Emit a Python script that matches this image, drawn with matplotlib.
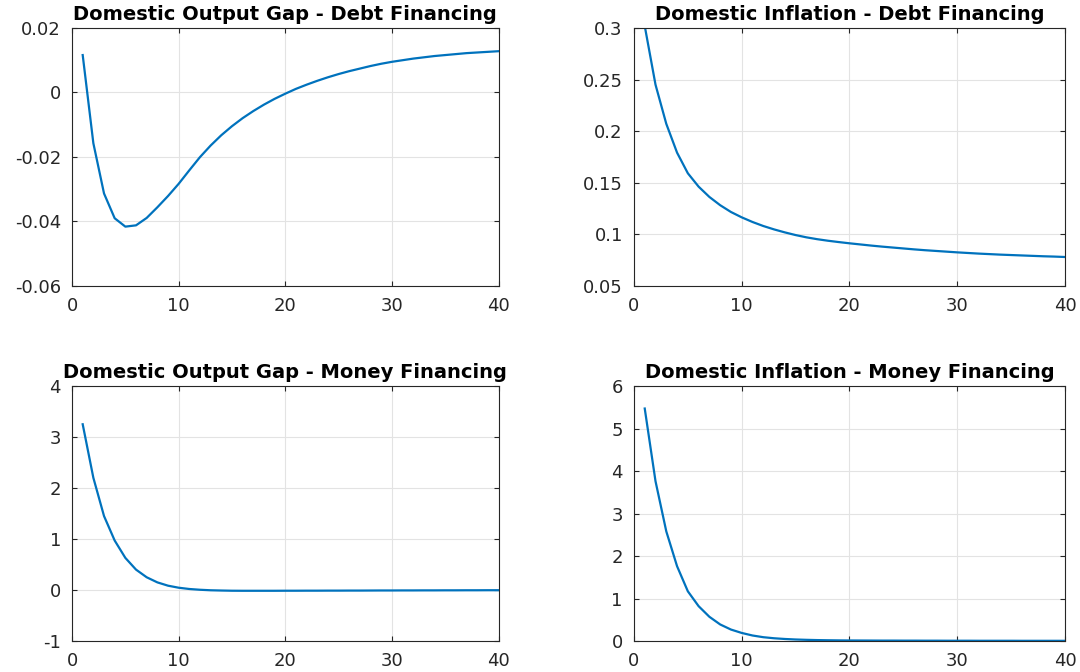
import matplotlib
matplotlib.use("Agg")
import matplotlib.pyplot as plt

plt.rcParams['font.family'] = ['DejaVu Sans']

periods = list(range(1, 41))

output_gap_debt = [0.0116, -0.0158, -0.0314, -0.0391, -0.0417, -0.0413, -0.0390, -0.0357, -0.0322, -0.0284,
                   -0.0242, -0.0201, -0.0165, -0.0133, -0.0105, -0.0080, -0.0058, -0.0038, -0.0020, -0.0004,
                   0.0011, 0.0024, 0.0036, 0.0047, 0.0057, 0.0066, 0.0074, 0.0082, 0.0089, 0.0095,
                   0.0100, 0.0105, 0.0109, 0.0113, 0.0116, 0.0119, 0.0122, 0.0124, 0.0126, 0.0128]

inflation_debt = [0.302, 0.245, 0.207, 0.179, 0.159, 0.146, 0.136, 0.128, 0.1214, 0.1162,
                  0.1117, 0.1078, 0.1045, 0.1016, 0.0990, 0.0968, 0.0950, 0.0935, 0.0922, 0.0910,
                  0.0899, 0.0888, 0.0878, 0.0869, 0.0860, 0.0851, 0.0843, 0.0836, 0.0829, 0.0822,
                  0.0816, 0.0810, 0.0805, 0.0800, 0.0796, 0.0792, 0.0788, 0.0784, 0.0781, 0.0777]

output_gap_money = [3.25, 2.20, 1.45, 0.97, 0.63, 0.40, 0.25, 0.15, 0.085, 0.045,
                    0.020, 0.005, -0.005, -0.010, -0.014, -0.015, -0.015, -0.015, -0.015, -0.014,
                    -0.014, -0.013, -0.013, -0.012, -0.012, -0.011, -0.011, -0.010, -0.009, -0.009,
                    -0.008, -0.008, -0.007, -0.007, -0.006, -0.006, -0.005, -0.005, -0.004, -0.004]

inflation_money = [5.47, 3.76, 2.58, 1.76, 1.17, 0.82, 0.57, 0.39, 0.27, 0.19,
                   0.13, 0.09, 0.065, 0.048, 0.036, 0.028, 0.022, 0.018, 0.015, 0.013,
                   0.012, 0.011, 0.010, 0.010, 0.009, 0.009, 0.008, 0.008, 0.007, 0.007,
                   0.007, 0.006, 0.006, 0.006, 0.006, 0.005, 0.005, 0.005, 0.005, 0.005]

titles = ["Domestic Output Gap - Debt Financing", "Domestic Inflation - Debt Financing",
          "Domestic Output Gap - Money Financing", "Domestic Inflation - Money Financing"]
series = [output_gap_debt, inflation_debt, output_gap_money, inflation_money]
ylims = [(-0.06, 0.02), (0.05, 0.3), (-1, 4), (0, 6)]
yticks = [[-0.06, -0.04, -0.02, 0, 0.02],
          [0.05, 0.1, 0.15, 0.2, 0.25, 0.3],
          [-1, 0, 1, 2, 3, 4],
          [0, 1, 2, 3, 4, 5, 6]]
yticklabels = [["-0.06", "-0.04", "-0.02", "0", "0.02"],
               ["0.05", "0.1", "0.15", "0.2", "0.25", "0.3"],
               ["-1", "0", "1", "2", "3", "4"],
               ["0", "1", "2", "3", "4", "5", "6"]]
xticks = [0, 10, 20, 30, 40]

fig = plt.figure(figsize=(10.8, 6.72), dpi=100)
positions = [[0.0667, 0.5751, 0.3949, 0.3832],
             [0.5870, 0.5751, 0.3991, 0.3832],
             [0.0667, 0.0461, 0.3949, 0.3795],
             [0.5870, 0.0461, 0.3991, 0.3795]]

axcol = '#262626'
for pos, t, y, yl, yt, ytl in zip(positions, titles, series, ylims, yticks, yticklabels):
    ax = fig.add_axes(pos)
    ax.plot(periods, y, color='#0072BD', lw=1.6, clip_on=True)
    ax.set_xlim(0, 40)
    ax.set_ylim(*yl)
    ax.set_xticks(xticks)
    ax.set_xticklabels([str(v) for v in xticks])
    ax.set_yticks(yt)
    ax.set_yticklabels(ytl)
    ax.grid(True, color='#e3e3e3', lw=0.8)
    ax.set_axisbelow(True)
    ax.tick_params(direction='in', top=True, right=True, length=3.5, width=0.8,
                   colors=axcol, labelsize=13)
    ax.tick_params(axis='y', pad=8)
    ax.tick_params(axis='x', pad=8)
    for s in ax.spines.values():
        s.set_color(axcol)
        s.set_linewidth(0.8)
    ax.set_title(t, fontsize=14, fontweight='bold', pad=6, color='black')

fig.savefig("out.png", dpi=100)
